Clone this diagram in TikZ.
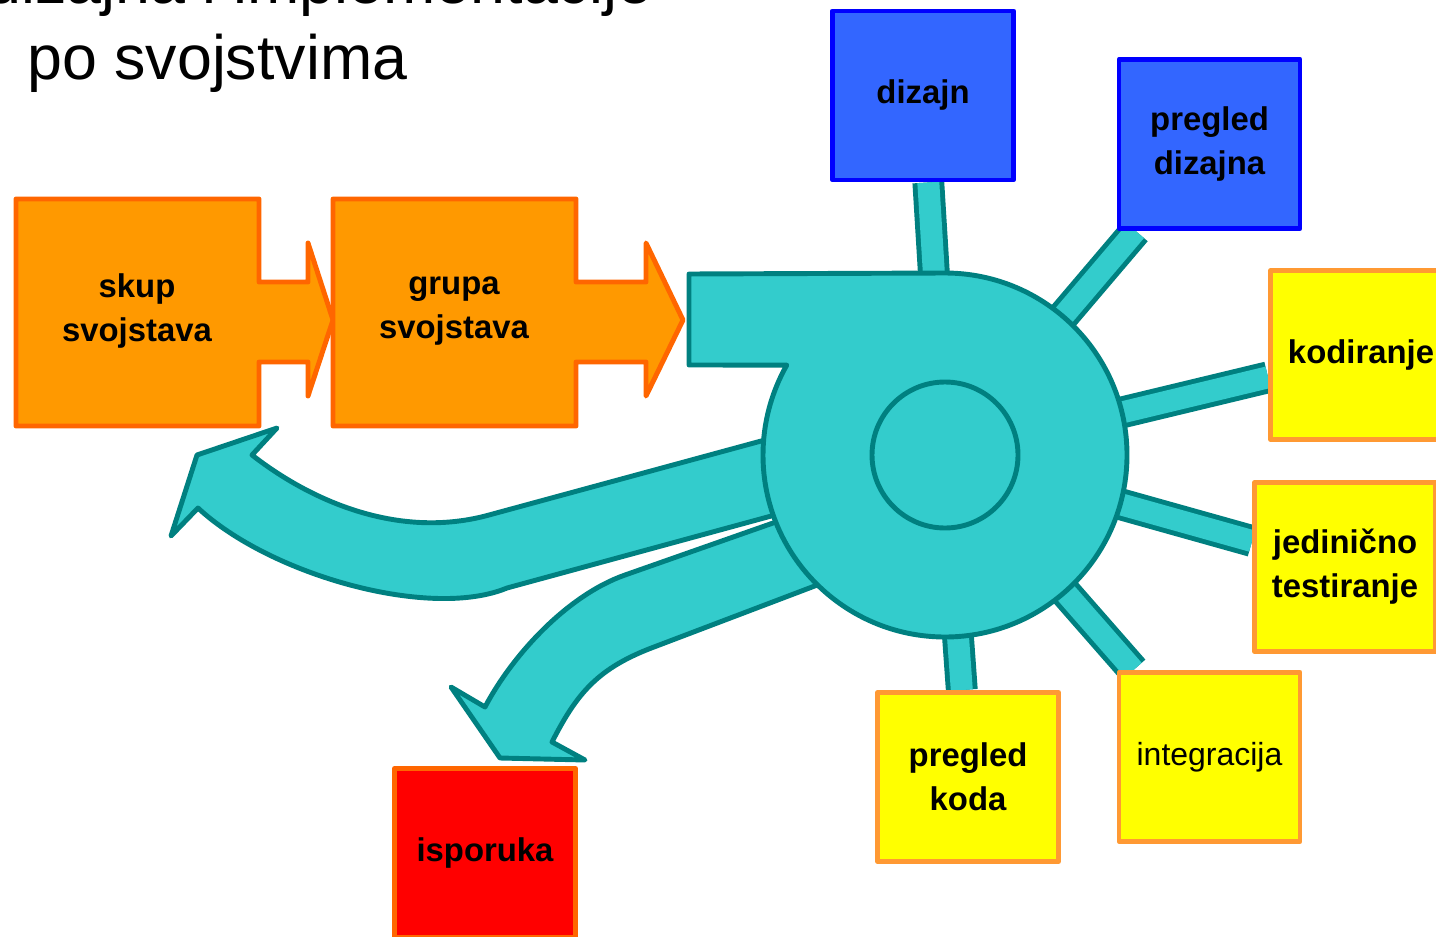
\documentclass[tikz,border=0pt]{standalone}
\usepackage{fontspec}
\setmainfont{Liberation Sans}
\pgfdeclarelayer{background}
\pgfsetlayers{background,main}
\definecolor{orfill}{HTML}{FF9900}
\definecolor{ordraw}{HTML}{FF6600}
\definecolor{blfill}{HTML}{3366FF}
\definecolor{bldraw}{HTML}{0000FF}
\definecolor{yefill}{HTML}{FFFF00}
\definecolor{yedraw}{HTML}{FF9933}
\definecolor{rdfill}{HTML}{FF0000}
\definecolor{tefill}{HTML}{33CCCC}
\definecolor{tedraw}{HTML}{008080}
\tikzset{
  lbl/.style={font=\bfseries\fontsize{18.7}{25}\selectfont, align=center, inner sep=0pt},
  boxbase/.style={line width=2.8pt, line join=round, minimum width=3.62cm, minimum height=3.38cm, inner sep=0pt, align=center, font=\bfseries\fontsize{18.7}{25}\selectfont},
  bluebox/.style={boxbase, draw=bldraw, fill=blfill},
  yellowbox/.style={boxbase, draw=yedraw, fill=yefill},
  redbox/.style={boxbase, draw=ordraw, fill=rdfill},
  orshape/.style={draw=ordraw, fill=orfill, line width=2.8pt, line join=round},
  teshape/.style={draw=tedraw, fill=tefill, line width=2.8pt, line join=round},
  spoke/.style={draw=tedraw, line width=2.8pt, double=tefill, double distance=12.5pt},
  titlefont/.style={font=\fontsize{35.7}{42}\selectfont, inner sep=0pt, anchor=base west}
}
\begin{document}
\begin{tikzpicture}[x=0.02cm, y=-0.02cm]
\useasboundingbox (0,0) rectangle (1436,936);
\clip (0,0) rectangle (1436,936);

% title
\node[titlefont] (t1) at (-14,4) {dizajna i implementacije};
\node[titlefont] (t2) at (27,80) {po svojstvima};

% orange process arrows
\path[orshape] (16,199) -- (259,199) -- (259,282) -- (308,282) -- (308,243) -- (333,320) -- (308,396) -- (308,362) -- (259,362) -- (259,426) -- (16,426) -- cycle;
\node[lbl] (skup) at (137,311) {skup\\svojstava};
\path[orshape] (333,199) -- (576,199) -- (576,282) -- (646,282) -- (646,243) -- (683,320) -- (646,396) -- (646,362) -- (576,362) -- (576,426) -- (333,426) -- cycle;
\node[lbl] (grupa) at (454,311) {grupa\\svojstava};

% curved arrows out of the hub
\path[teshape] (820,425) -- (489,515) .. controls (402,539) and (315,504) .. (252,455) -- (277,428) -- (197,455) -- (171,536) -- (198,508) .. controls (270,575) and (430,620) .. (507,588) -- (830,500) -- cycle;
\path[teshape] (830,503) -- (625,575) .. controls (568,595) and (513,654) .. (485,707) -- (451,687) -- (500,758) -- (585,760) -- (552,742) .. controls (577,693) and (598,668) .. (654,647) -- (870,565) -- cycle;

% hub
\coordinate (hub) at (945,455);
\path[teshape] (689,274) -- (945,273) arc[start angle=-90, end angle=209.6, radius=182] -- (689,365) -- cycle;
\draw[draw=tedraw, line width=2.8pt] (hub) circle[radius=73];

% boxes
\node[bluebox] (dz) at (923,95.5) {dizajn};
\node[bluebox] (pd) at (1209.5,144) {pregled\\dizajna};
\node[yellowbox] (kod) at (1361,355) {kodiranje};
\node[yellowbox] (jed) at (1345,567) {jedinično\\testiranje};
\node[yellowbox] (pk) at (968,777) {pregled\\koda};
\node[yellowbox, font=\fontsize{18.2}{25}\selectfont] (int) at (1209.5,757) {integracija};
\node[redbox] (isp) at (485,853) {isporuka};

% spokes
\begin{pgfonlayer}{background}
\draw[spoke] (hub) -- (dz);
\draw[spoke] (hub) -- (pd);
\draw[spoke] (hub) -- (kod);
\draw[spoke] (hub) -- (jed);
\draw[spoke] (hub) -- (pk);
\draw[spoke] (hub) -- (int);
\end{pgfonlayer}
\end{tikzpicture}
\end{document}
